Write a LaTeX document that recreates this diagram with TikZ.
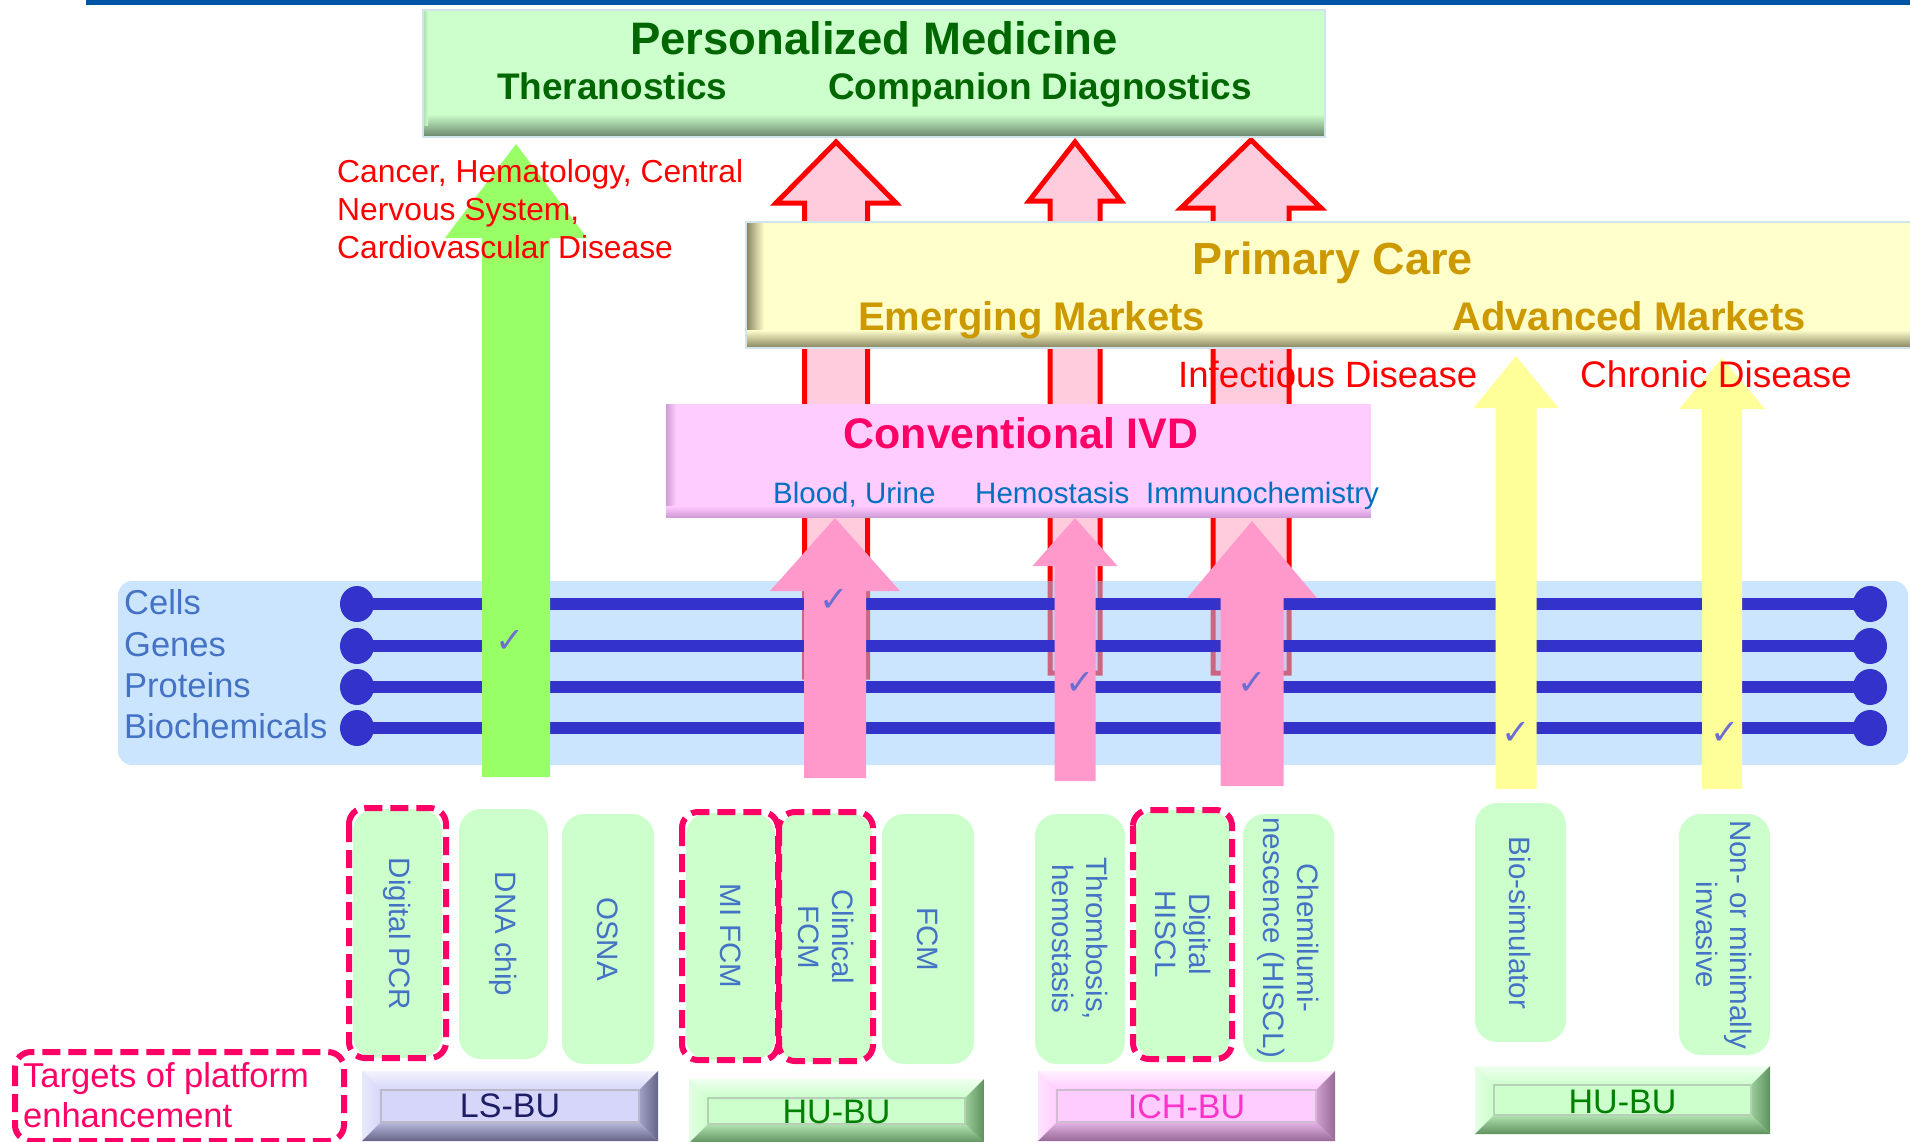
\documentclass[tikz,border=0pt]{standalone}
\usepackage{fontspec}
\setmainfont{Liberation Sans}
\newfontfamily\symfont{DejaVu Sans}

% palette
\definecolor{topblue}{RGB}{0,84,166}
\definecolor{pmfill}{RGB}{204,255,204}
\definecolor{pmdark}{RGB}{105,132,105}
\definecolor{pmtext}{RGB}{0,102,0}
\definecolor{pcfill}{RGB}{255,255,204}
\definecolor{pcdark}{RGB}{135,130,95}
\definecolor{pctext}{RGB}{204,153,0}
\definecolor{ivdfill}{RGB}{255,204,255}
\definecolor{ivddark}{RGB}{210,155,215}
\definecolor{ivdtext}{RGB}{255,0,102}
\definecolor{subblue}{RGB}{0,112,192}
\definecolor{hotred}{RGB}{255,0,0}
\definecolor{hollowpink}{RGB}{255,204,222}
\definecolor{grarrow}{RGB}{153,255,102}
\definecolor{pkarrow}{RGB}{255,153,204}
\definecolor{ylarrow}{RGB}{255,255,153}
\definecolor{bandblue}{RGB}{153,203,255}
\definecolor{lineblue}{RGB}{51,51,204}
\definecolor{labelblue}{RGB}{68,114,196}
\definecolor{checkblue}{RGB}{110,110,210}
\definecolor{techgreen}{RGB}{204,255,204}
\definecolor{targetpink}{RGB}{255,0,102}
\definecolor{edgegray}{RGB}{210,228,235}
\definecolor{lsfill}{RGB}{214,214,250}
\definecolor{lsdark}{RGB}{100,100,135}
\definecolor{lstext}{RGB}{30,30,100}
\definecolor{hufill}{RGB}{204,255,204}
\definecolor{hudark}{RGB}{95,145,95}
\definecolor{hutext}{RGB}{0,128,0}
\definecolor{ichfill}{RGB}{255,204,255}
\definecolor{ichdark}{RGB}{150,105,150}
\definecolor{ichtext}{RGB}{255,51,204}

% block arrow pointing up: style, centre x, half body, half head, tip y, head base y, bottom y
\newcommand\blockarrow[7]{%
  \path[#1] ({#2-#3},#7) -- ({#2-#3},#6) -- ({#2-#4},#6) -- (#2,#5)
    -- ({#2+#4},#6) -- ({#2+#3},#6) -- ({#2+#3},#7) -- cycle;}

% bevelled business-unit button: x1, y1, x2, y2, colour scheme, label, baseline
\newcommand\bubar[7]{%
  \fill[#5fill] (#1,#2) rectangle (#3,#4);
  \shade[top color=#5fill!30!white, bottom color=#5fill]
    (#1,#2) -- (#3,#2) -- ({#3-19},{#2+19}) -- ({#1+19},{#2+19}) -- cycle;
  \shade[left color=#5fill!55!white, right color=#5fill]
    (#1,#2) -- ({#1+19},{#2+19}) -- ({#1+19},{#4-19}) -- (#1,#4) -- cycle;
  \shade[left color=#5fill!55!#5dark, right color=#5dark]
    (#3,#2) -- ({#3-19},{#2+19}) -- ({#3-19},{#4-19}) -- (#3,#4) -- cycle;
  \shade[top color=#5fill!75!#5dark, bottom color=#5dark]
    (#1,#4) -- ({#1+19},{#4-19}) -- ({#3-19},{#4-19}) -- (#3,#4) -- cycle;
  \draw[#5dark!45!white, line width=1.2, fill=#5fill]
    ({#1+19},{#2+19}) rectangle ({#3-19},{#4-19});
  \node[butext, text=#5text, anchor=base] at ({(#1+#3)/2},#7) {#6};}

\tikzset{
  hollow/.style={draw=hotred, fill=hollowpink, line width=5, line join=miter},
  greenarrow/.style={fill=grarrow},
  pinkarrow/.style={fill=pkarrow},
  yellowarrow/.style={fill=ylarrow},
  techbox/.style={fill=techgreen, rounded corners=22},
  targetbox/.style={draw=targetpink, line width=6, dash pattern=on 18 off 8, rounded corners=16},
  techtext/.style={text=labelblue, font=\fontsize{29.5}{34}\selectfont, align=center, inner sep=0, rotate=-90},
  layer/.style={text=labelblue, font=\fontsize{34.5}{40}\selectfont, inner sep=0, anchor=base west},
  chk/.style={text=checkblue, font=\symfont\fontsize{35}{35}\selectfont, inner sep=0},
  redlabel/.style={text=hotred, inner sep=0, anchor=base west},
  butext/.style={font=\fontsize{34}{40}\selectfont, inner sep=0},
  plane/.style={line width=12, lineblue},
  knob/.style={fill=lineblue},
}

\begin{document}
\begin{tikzpicture}[x=1pt, y=-1pt]
\useasboundingbox (0,0) rectangle (1910,1141);

% header rule
\draw[topblue, line width=5] (86,2.5) -- (1910,2.5);

% hollow arrows feeding personalized medicine
\blockarrow{hollow}{836}{31.5}{60}{142}{203}{677}
\blockarrow{hollow}{1075}{25}{46}{142}{201}{673}
\blockarrow{hollow}{1251}{38}{70}{140}{208}{673}

% Personalized Medicine panel
\fill[pmfill] (423,10) rectangle (1325,137);
\shade[top color=pmfill, bottom color=pmdark] (423,114) rectangle (1325,137);
\shade[left color=pmfill!70!pmdark, right color=pmfill] (423,10) rectangle (428,125);
\draw[edgegray, line width=1.5] (423,10) rectangle (1325,137);
\node (pm) [text=pmtext, font=\bfseries\fontsize{45.5}{52}\selectfont, inner sep=0, anchor=base] at (874,54) {Personalized Medicine};
\node (thera) [text=pmtext, font=\bfseries\fontsize{37}{42}\selectfont, inner sep=0, anchor=base west] at (497,99) {Theranostics};
\node (cdx) [text=pmtext, font=\bfseries\fontsize{37}{42}\selectfont, inner sep=0, anchor=base west] at (828,99) {Companion Diagnostics};

% Primary Care panel
\fill[pcfill] (746,222) rectangle (1912,348);
\shade[left color=pcdark, right color=pcfill] (746,222) rectangle (764,348);
\shade[top color=pcfill, bottom color=pcdark] (746,330) rectangle (1912,348);
\draw[edgegray, line width=1.5] (1912,222) -- (746,222) -- (746,348) -- (1912,348);
\node (pc) [text=pctext, font=\bfseries\fontsize{45}{52}\selectfont, inner sep=0, anchor=base] at (1333,274) {Primary Care};
\node (em) [text=pctext, font=\bfseries\fontsize{40}{46}\selectfont, inner sep=0, anchor=base west] at (858,330) {Emerging Markets};
\node (am) [text=pctext, font=\bfseries\fontsize{40}{46}\selectfont, inner sep=0, anchor=base west] at (1452,330) {Advanced Markets};

% Conventional IVD panel
\fill[ivdfill] (666,404) rectangle (1371,517);
\shade[left color=ivddark, right color=ivdfill] (666,404) rectangle (676,517);
\shade[top color=ivdfill, bottom color=ivddark] (666,506) rectangle (1371,517);
\node (ivd) [text=ivdtext, font=\bfseries\fontsize{42.8}{48}\selectfont, inner sep=0, anchor=base] at (1021,448) {Conventional IVD};
\node (blood) [text=subblue, font=\fontsize{29.5}{34}\selectfont, inner sep=0, anchor=base west] at (773,503) {Blood, Urine};
\node (hemo) [text=subblue, font=\fontsize{29.5}{34}\selectfont, inner sep=0, anchor=base west] at (975,503) {Hemostasis};
\node (immuno) [text=subblue, font=\fontsize{29.5}{34}\selectfont, inner sep=0, anchor=base west] at (1146,503) {Immunochemistry};

% analyte band
\fill[bandblue, fill opacity=0.5, rounded corners=14] (118,581) rectangle (1908,765);
\foreach \yy in {604,646,687,728}{
  \draw[plane] (357,\yy) -- (1870,\yy);
  \fill[knob] (357,\yy) ellipse [x radius=17, y radius=18];
  \fill[knob] (1870,\yy) ellipse [x radius=17, y radius=18];
}
\node (cells) [layer] at (124,614) {Cells};
\node (genes) [layer] at (124,656) {Genes};
\node (prot) [layer] at (124,697) {Proteins};
\node (bioch) [layer] at (124,738) {Biochemicals};

% solid arrows
\blockarrow{greenarrow}{516}{34}{71}{144}{238}{777}
\blockarrow{pinkarrow}{835}{31}{65}{518}{591}{778}
\blockarrow{pinkarrow}{1075}{20.5}{42.5}{518}{566}{781}
\blockarrow{pinkarrow}{1252}{31.5}{65}{521}{598}{786}
\blockarrow{yellowarrow}{1516}{20.5}{42.5}{356}{408}{789}
\blockarrow{yellowarrow}{1722}{20}{43}{358}{409}{789}

% check marks
\node (c1) [chk] at (510,641) {✓};
\node (c2) [chk] at (834,600) {✓};
\node (c3) [chk] at (1080,683) {✓};
\node (c4) [chk] at (1252,683) {✓};
\node (c5) [chk] at (1516,733) {✓};
\node (c6) [chk] at (1725,733) {✓};

% disease areas
\node (ca1) [redlabel, font=\fontsize{31.8}{38}\selectfont] at (337,182) {Cancer, Hematology, Central};
\node (ca2) [redlabel, font=\fontsize{31.8}{38}\selectfont] at (337,220) {Nervous System,};
\node (ca3) [redlabel, font=\fontsize{31.8}{38}\selectfont] at (337,258) {Cardiovascular Disease};
\node (inf) [redlabel, font=\fontsize{36.6}{42}\selectfont] at (1178,387) {Infectious Disease};
\node (chr) [redlabel, font=\fontsize{37}{42}\selectfont] at (1580,387) {Chronic Disease};

% technology platforms
\fill[techbox] (353,809) rectangle (442,1058);
\fill[techbox] (459,809) rectangle (548,1059);
\fill[techbox] (562,814) rectangle (654,1064);
\fill[techbox] (686,813) rectangle (775,1060);
\fill[techbox] (779,813) rectangle (872,1062);
\fill[techbox] (882,814) rectangle (974,1064);
\fill[techbox] (1035,814) rectangle (1125,1064);
\fill[techbox] (1136,810) rectangle (1230,1059);
\fill[techbox] (1243,814) rectangle (1334,1062);
\fill[techbox] (1475,803) rectangle (1566,1042);
\fill[techbox] (1679,814) rectangle (1770,1055);

\node (dpcr) [techtext] at (397.5,934) {Digital PCR};
\node (dna) [techtext] at (503.5,934) {DNA chip};
\node (osna) [techtext] at (608,939) {OSNA};
\node (mifcm) [techtext] at (730.5,936) {MI FCM};
\node (cfcm) [techtext] at (826,937) {Clinical\\FCM};
\node (fcm) [techtext] at (928,939) {FCM};
\node (thr) [techtext] at (1080,939) {Thrombosis,\\hemostasis};
\node (dhiscl) [techtext] at (1183,934) {Digital\\HISCL};
\node (chemi) [techtext] at (1288.5,938) {Chemilumi-\\nescence (HISCL)};
\node (biosim) [techtext] at (1520.5,923) {Bio-simulator};
\node (noninv) [techtext] at (1724.5,935) {Non- or minimally\\invasive};

% platform enhancement targets
\draw[targetbox] (349,808) rectangle (446,1058);
\draw[targetbox] (682,812) rectangle (778,1060);
\draw[targetbox] (779,812) rectangle (873,1061);
\draw[targetbox] (1133,810) rectangle (1232,1059);
\draw[targetbox] (15,1052) rectangle (344,1141);
\node (tg1) [text=targetpink, font=\fontsize{34.5}{40}\selectfont, inner sep=0, anchor=base west] at (23,1087) {Targets of platform};
\node (tg2) [text=targetpink, font=\fontsize{34.5}{40}\selectfont, inner sep=0, anchor=base west] at (23,1127) {enhancement};

% business units
\bubar{362}{1071}{658}{1141}{ls}{LS-BU}{1117}
\bubar{689}{1079}{984}{1143}{hu}{HU-BU}{1123}
\bubar{1038}{1071}{1335}{1141}{ich}{ICH-BU}{1118}
\bubar{1475}{1066}{1770}{1134}{hu}{HU-BU}{1113}
\end{tikzpicture}
\end{document}
